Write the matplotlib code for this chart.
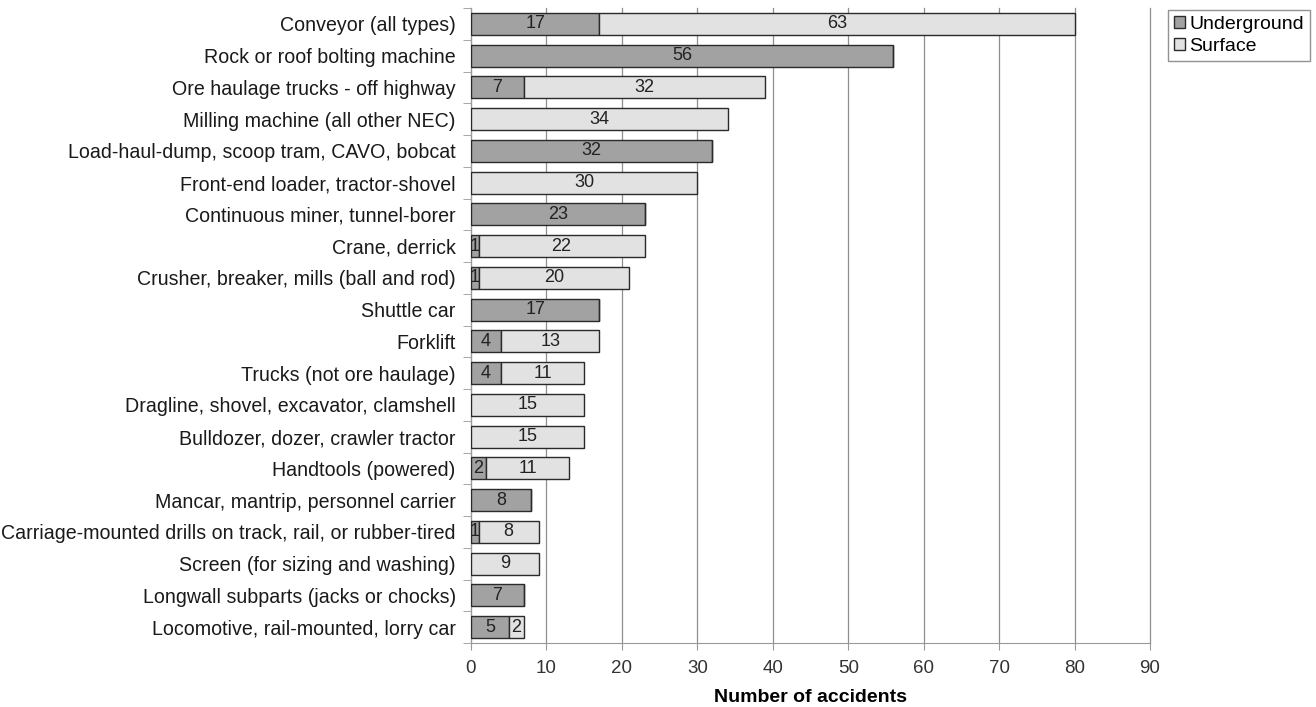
import matplotlib
matplotlib.use("Agg")
import matplotlib.pyplot as plt
import numpy as np

categories = [
    "Conveyor (all types)",
    "Rock or roof bolting machine",
    "Ore haulage trucks - off highway",
    "Milling machine (all other NEC)",
    "Load-haul-dump, scoop tram, CAVO, bobcat",
    "Front-end loader, tractor-shovel",
    "Continuous miner, tunnel-borer",
    "Crane, derrick",
    "Crusher, breaker, mills (ball and rod)",
    "Shuttle car",
    "Forklift",
    "Trucks (not ore haulage)",
    "Dragline, shovel, excavator, clamshell",
    "Bulldozer, dozer, crawler tractor",
    "Handtools (powered)",
    "Mancar, mantrip, personnel carrier",
    "Carriage-mounted drills on track, rail, or rubber-tired",
    "Screen (for sizing and washing)",
    "Longwall subparts (jacks or chocks)",
    "Locomotive, rail-mounted, lorry car",
]
underground = [17, 56, 7, 0, 32, 0, 23, 1, 1, 17, 4, 4, 0, 0, 2, 8, 1, 0, 7, 5]
surface = [63, 0, 32, 34, 0, 30, 0, 22, 20, 0, 13, 11, 15, 15, 11, 0, 8, 9, 0, 2]
xticks = [0, 10, 20, 30, 40, 50, 60, 70, 80, 90]

plt.rcParams['font.family'] = ['Liberation Sans', 'DejaVu Sans']

fig = plt.figure(figsize=(13.16, 7.07), dpi=100)
ax = fig.add_axes([471/1316, 1 - 643/707, 679/1316, 635/707])

n = len(categories)
y = np.arange(n)
ug_col = "#a2a2a2"
sf_col = "#e2e2e2"
h = 0.69
b1 = ax.barh(y, underground, height=h, color=ug_col, edgecolor="#2a2a2a", linewidth=1.0, label="Underground", zorder=3)
b2 = ax.barh(y, surface, left=underground, height=h, color=sf_col, edgecolor="#2a2a2a", linewidth=1.0, label="Surface", zorder=3)

for i in range(n):
    u, s = underground[i], surface[i]
    if u > 0:
        ax.text(u / 2, y[i], str(u), ha="center", va="center", fontsize=13, color="#222222", zorder=4)
    if s > 0:
        ax.text(u + s / 2, y[i], str(s), ha="center", va="center", fontsize=13, color="#222222", zorder=4)

ax.set_ylim(n - 0.5, -0.5)
ax.set_xlim(0, 90)
ax.set_xticks(xticks)
ax.set_xticklabels([str(t) for t in xticks], fontsize=13.5, color="#333333")
ax.set_yticks(y)
ax.set_yticklabels(categories, fontsize=14.1, color="#1a1a1a")
ax.set_yticks(np.arange(n + 1) - 0.5, minor=True)
ax.tick_params(axis="y", which="major", length=0, pad=11)
ax.tick_params(axis="y", which="minor", length=6, color="#999999")
ax.tick_params(axis="x", length=5, color="#999999", pad=7)
ax.xaxis.grid(True, color="#8f8f8f", linewidth=0.9, zorder=0)
for gl in ax.get_xgridlines():
    gl.set_clip_on(False)
ax.set_axisbelow(True)
for side in ["top", "right"]:
    ax.spines[side].set_visible(False)
ax.spines["left"].set_color("#999999")
ax.spines["bottom"].set_color("#999999")
ax.set_xlabel("Number of accidents", fontsize=14, fontweight="bold", labelpad=9)

leg = fig.legend(handles=[b1, b2], loc="upper left", bbox_to_anchor=(1168/1316, 1 - 10/707),
                 fontsize=14, frameon=True, fancybox=False, edgecolor="#777777",
                 handlelength=0.55, handleheight=0.55, handletextpad=0.25, borderpad=0.3,
                 labelspacing=0.25, borderaxespad=0)

fig.savefig("out.png", dpi=100)
